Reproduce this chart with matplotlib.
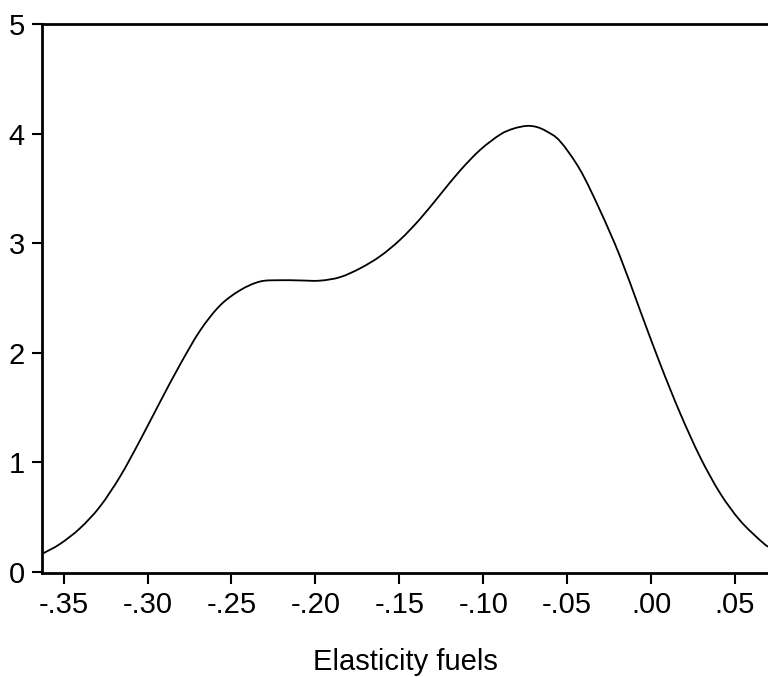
import matplotlib
matplotlib.use("Agg")
import matplotlib.pyplot as plt
from matplotlib.path import Path
from matplotlib.patches import PathPatch

plt.rcParams['font.family'] = ['Liberation Sans', 'DejaVu Sans']

# Kernel density of "Elasticity fuels"
elasticity = [-0.3622, -0.3522, -0.3403, -0.3284, -0.3164, -0.3045, -0.2926, -0.2807,
              -0.2688, -0.2569, -0.2449, -0.2330, -0.2211, -0.2092, -0.1973, -0.1853,
              -0.1734, -0.1615, -0.1496, -0.1377, -0.1258, -0.1139, -0.1019, -0.0900,
              -0.0820, -0.0741, -0.0681, -0.0622, -0.0542, -0.0423, -0.0304, -0.0185,
              -0.0066, 0.0054, 0.0173, 0.0292, 0.0411, 0.0530, 0.0649, 0.0697]
density = [0.170, 0.255, 0.398, 0.596, 0.870, 1.200, 1.550, 1.890,
           2.200, 2.430, 2.570, 2.650, 2.662, 2.660, 2.658, 2.690,
           2.770, 2.880, 3.030, 3.220, 3.440, 3.660, 3.850, 3.990,
           4.045, 4.070, 4.060, 4.020, 3.930, 3.670, 3.300, 2.880,
           2.390, 1.900, 1.450, 1.050, 0.720, 0.470, 0.290, 0.230]

x_ticks = [-0.35, -0.30, -0.25, -0.20, -0.15, -0.10, -0.05, 0.00, 0.05]
x_tick_labels = ["-.35", "-.30", "-.25", "-.20", "-.15", "-.10", "-.05", ".00", ".05"]
y_ticks = [0, 1, 2, 3, 4, 5]
y_tick_labels = ["0", "1", "2", "3", "4", "5"]
x_label = "Elasticity fuels"

fig = plt.figure(figsize=(7.68, 6.77), dpi=100)
ax = fig.add_axes([42 / 768, 104.5 / 677, 1 - 42 / 768, (572.5 - 24) / 677])

# Smooth curve through the read points (Catmull-Rom rendered as cubic Bezier)
pts = list(zip(elasticity, density))
verts = [pts[0]]
codes = [Path.MOVETO]
n = len(pts)
for i in range(n - 1):
    p0 = pts[i - 1] if i > 0 else pts[i]
    p1 = pts[i]
    p2 = pts[i + 1]
    p3 = pts[i + 2] if i + 2 < n else pts[i + 1]
    c1 = (p1[0] + (p2[0] - p0[0]) / 6.0, p1[1] + (p2[1] - p0[1]) / 6.0)
    c2 = (p2[0] - (p3[0] - p1[0]) / 6.0, p2[1] - (p3[1] - p1[1]) / 6.0)
    verts += [c1, c2, p2]
    codes += [Path.CURVE4, Path.CURVE4, Path.CURVE4]
curve = PathPatch(Path(verts, codes), facecolor='none', edgecolor='black',
                  linewidth=1.3, transform=ax.transData, clip_on=True)
ax.add_patch(curve)

ax.set_xlim(-0.3629, 0.0697)
ax.set_ylim(-0.005, 5)
ax.set_xticks(x_ticks)
ax.set_xticklabels(x_tick_labels)
ax.set_yticks(y_ticks)
ax.set_yticklabels(y_tick_labels)

for side in ['left', 'bottom', 'top']:
    ax.spines[side].set_linewidth(2.0)
    ax.spines[side].set_color('black')
ax.spines['right'].set_visible(False)

ax.tick_params(axis='x', direction='out', length=8, width=1.5, pad=5.5, labelsize=21)
ax.tick_params(axis='y', direction='out', length=7.5, width=1.5, pad=5, labelsize=21)

ax.set_xlabel(x_label, fontsize=21, labelpad=21)

fig.savefig("out.png", dpi=100)
